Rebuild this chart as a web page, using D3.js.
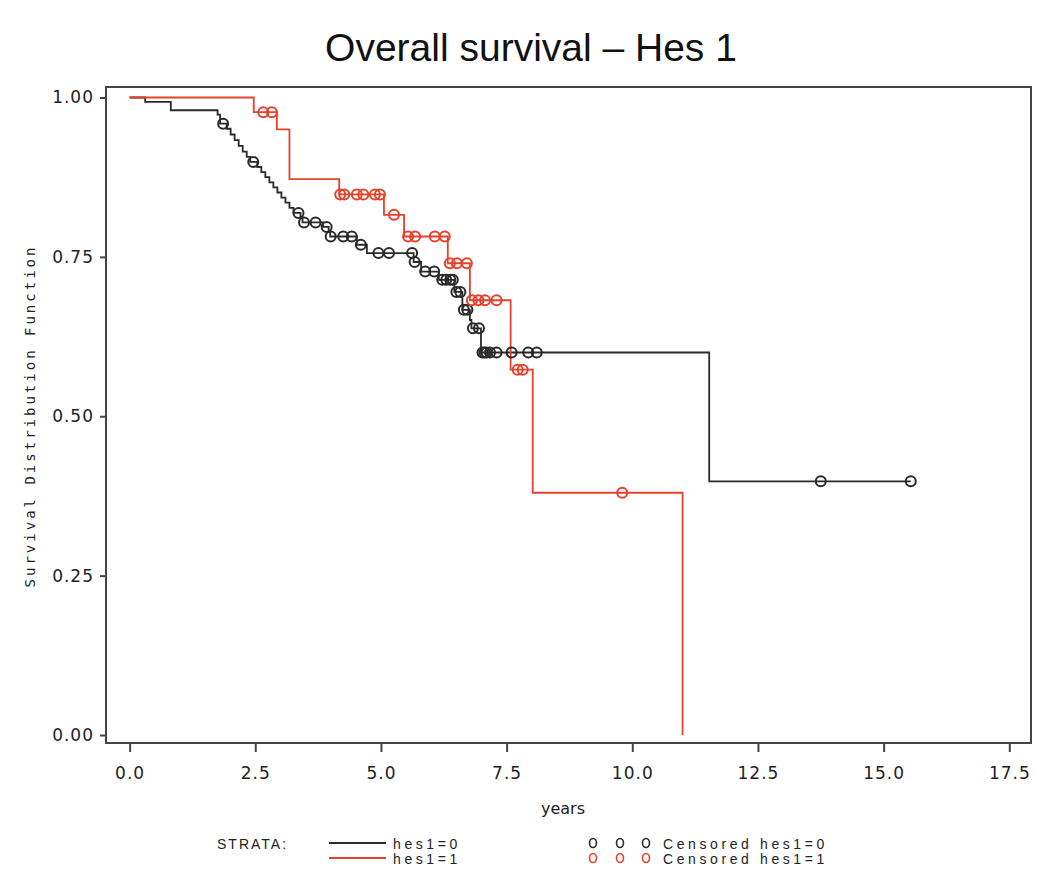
<!DOCTYPE html>
<html>
<head>
<meta charset="utf-8">
<script src="https://cdn.jsdelivr.net/npm/d3@7"></script>
<style>
  html, body { margin: 0; padding: 0; background: #fff; }
  svg { display: block; }
</style>
</head>
<body>
<svg id="chart" width="1050" height="885"></svg>
<script>
// ---- data ----
const xTicks = [0, 2.5, 5, 7.5, 10, 12.5, 15, 17.5];
const yTicks = [0, 0.25, 0.5, 0.75, 1];

// hes1=0 : step times and survival after each step
const hes0Times = [0, 0.31, 0.82, 1.75, 1.80, 1.93, 2.01, 2.09, 2.17, 2.25, 2.33, 2.40,
  2.54, 2.62, 2.70, 2.78, 2.86, 2.94, 3.02, 3.10, 3.18, 3.26, 3.40, 3.44,
  3.85, 3.96, 3.99, 4.52, 4.72, 5.65, 5.80, 6.15, 6.46, 6.62, 6.77, 6.80, 6.99, 11.53];
const hes0Surv = [1.000, 0.993, 0.980, 0.973, 0.959, 0.951, 0.942, 0.933, 0.924, 0.915, 0.907, 0.899,
  0.891, 0.883, 0.875, 0.867, 0.859, 0.851, 0.843, 0.835, 0.827, 0.819, 0.812, 0.804,
  0.797, 0.789, 0.782, 0.769, 0.756, 0.742, 0.727, 0.714, 0.695, 0.667, 0.651, 0.638, 0.600, 0.398];
const hes0End = 15.54;
const hes0Censor = [1.86, 2.46, 3.36, 3.47, 3.70, 3.92, 4.00, 4.25, 4.42, 4.60, 4.95, 5.16, 5.62,
  5.67, 5.88, 6.06, 6.22, 6.30, 6.38, 6.43, 6.50, 6.58, 6.65, 6.72, 6.83, 6.95,
  7.02, 7.06, 7.10, 7.17, 7.30, 7.60, 7.93, 8.10, 13.75, 15.54];

// hes1=1
const hes1Times = [0, 2.47, 2.93, 3.18, 4.17, 5.06, 5.46, 6.33, 6.77, 7.58, 8.02, 11.0];
const hes1Surv = [1.000, 0.977, 0.950, 0.872, 0.848, 0.816, 0.782, 0.740, 0.682, 0.573, 0.380, 0.000];
const hes1End = 11.0;
const hes1Censor = [2.66, 2.83, 4.19, 4.27, 4.52, 4.65, 4.88, 4.98, 5.26, 5.54, 5.68, 6.07, 6.27,
  6.37, 6.51, 6.71, 6.81, 6.94, 7.07, 7.30, 7.72, 7.82, 9.80];

const legendLabels = ["hes1=0", "hes1=1"];
const censorLabels = ["Censored hes1=0", "Censored hes1=1"];

// ---- layout ----
const BLACK = "#2a2a2a", RED = "#e5412c";
const frame = { left: 106, top: 87, right: 1031, bottom: 743 };
const x = d3.scaleLinear().domain([0, 17.5]).range([129.6, 1009.3]);
const y = d3.scaleLinear().domain([0, 1]).range([735, 97.5]);

const svg = d3.select("#chart");

// title
svg.append("text")
  .attr("x", 531).attr("y", 61)
  .attr("text-anchor", "middle")
  .attr("font-family", "Liberation Sans, Arial, sans-serif")
  .attr("font-size", 39)
  .attr("fill", "#111")
  .text("Overall survival \u2013 Hes 1");

// frame
svg.append("rect")
  .attr("x", frame.left).attr("y", frame.top)
  .attr("width", frame.right - frame.left).attr("height", frame.bottom - frame.top)
  .attr("fill", "none").attr("stroke", "#444").attr("stroke-width", 2);

// axes
const xAxis = d3.axisBottom(x).tickValues(xTicks).tickFormat(d3.format(".1f"))
  .tickSize(9).tickPadding(15);
const gx = svg.append("g").attr("transform", `translate(0,${frame.bottom})`).call(xAxis);
gx.select(".domain").remove();
gx.selectAll("line").attr("stroke", "#444").attr("stroke-width", 2);
gx.selectAll("text").attr("font-family", "DejaVu Sans, sans-serif").attr("font-size", 17)
  .attr("fill", "#222").attr("letter-spacing", 1);

const yAxis = d3.axisLeft(y).tickValues(yTicks).tickFormat(d3.format(".2f"))
  .tickSize(6).tickPadding(6);
const gy = svg.append("g").attr("transform", `translate(${frame.left},0)`).call(yAxis);
gy.select(".domain").remove();
gy.selectAll("line").attr("stroke", "#444").attr("stroke-width", 2);
gy.selectAll("text").attr("font-family", "DejaVu Sans, sans-serif").attr("font-size", 17)
  .attr("fill", "#222").attr("letter-spacing", 1);

// axis titles
svg.append("text")
  .attr("transform", "translate(35,416) rotate(-90)")
  .attr("text-anchor", "middle")
  .attr("font-family", "DejaVu Sans Mono, monospace")
  .attr("font-size", 14).attr("letter-spacing", 3)
  .attr("fill", "#222")
  .text("Survival Distribution Function");

svg.append("text")
  .attr("x", 563).attr("y", 814)
  .attr("text-anchor", "middle")
  .attr("font-family", "DejaVu Sans, sans-serif")
  .attr("font-size", 16).attr("fill", "#222")
  .text("years");

// curves
function stepData(times, surv, end) {
  const pts = times.map((t, i) => [t, surv[i]]);
  pts.push([end, surv[surv.length - 1]]);
  return pts;
}
function survAt(times, surv, t) {
  let s = surv[0];
  for (let i = 0; i < times.length; i++) if (times[i] <= t) s = surv[i];
  return s;
}
const line = d3.line().x(d => x(d[0])).y(d => y(d[1])).curve(d3.curveStepAfter);

const series = [
  { times: hes0Times, surv: hes0Surv, end: hes0End, censor: hes0Censor, color: BLACK },
  { times: hes1Times, surv: hes1Surv, end: hes1End, censor: hes1Censor, color: RED }
];

series.forEach(s => {
  svg.append("path")
    .datum(stepData(s.times, s.surv, s.end))
    .attr("d", line)
    .attr("fill", "none").attr("stroke", s.color).attr("stroke-width", 1.8);
});
series.forEach(s => {
  svg.append("g").selectAll("circle")
    .data(s.censor)
    .join("circle")
    .attr("cx", d => x(d))
    .attr("cy", d => y(survAt(s.times, s.surv, d)))
    .attr("r", 5)
    .attr("fill", "none").attr("stroke", s.color).attr("stroke-width", 2);
});

// legend
const lg = svg.append("g").attr("font-family", "Liberation Sans, Arial, sans-serif")
  .attr("font-size", 14).attr("fill", "#222");
lg.append("text").attr("x", 217).attr("y", 849).attr("letter-spacing", 2).text("STRATA:");
[BLACK, RED].forEach((c, i) => {
  const yy = 843 + i * 15;
  lg.append("line").attr("x1", 329).attr("x2", 386).attr("y1", yy).attr("y2", yy)
    .attr("stroke", c).attr("stroke-width", 2);
  lg.append("text").attr("x", 393).attr("y", yy + 6).attr("letter-spacing", 3.6)
    .text(legendLabels[i]);
  [593, 620, 646].forEach(cx => {
    lg.append("ellipse").attr("cx", cx).attr("cy", yy).attr("rx", 3.5).attr("ry", 4.5)
      .attr("fill", "none").attr("stroke", c).attr("stroke-width", 1.6);
  });
  lg.append("text").attr("x", 663).attr("y", yy + 6).attr("letter-spacing", 3.6)
    .text(censorLabels[i]);
});
</script>
</body>
</html>
